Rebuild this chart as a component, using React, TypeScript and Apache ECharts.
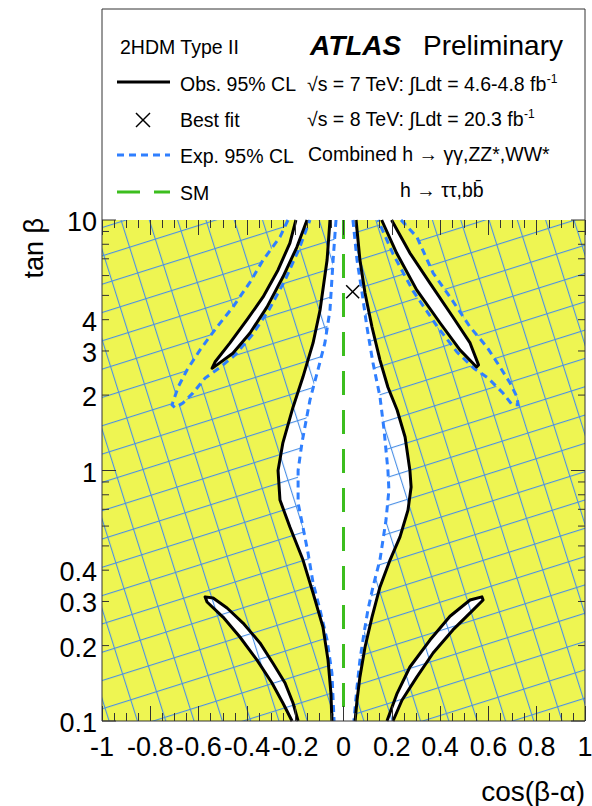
import React, { useEffect, useRef } from 'react';
import * as echarts from 'echarts';

const W = 592;
const H = 806;
const FONT = "'Liberation Sans', Arial, Helvetica, sans-serif";

// ---- axis ranges & ticks ----
const xRange = [-1, 1];
const yRange = [0.1, 10];
const yLabelValues = [0.1, 0.2, 0.3, 0.4, 1, 2, 3, 4, 10];
const yMajorTicks = [0.1, 1, 10];
const yMinorTicks = [0.2, 0.3, 0.4, 0.5, 0.6, 0.7, 0.8, 0.9, 2, 3, 4, 5, 6, 7, 8, 9];

// ---- observed 95% CL contours [cos(beta-alpha), tan beta] ----
const obsCentralLeft = [
  [-0.056, 10], [-0.068, 6.92], [-0.097, 4.37], [-0.126, 3.23], [-0.168, 2.36], [-0.209, 1.79],
  [-0.251, 1.29], [-0.271, 1.0], [-0.263, 0.762], [-0.222, 0.595], [-0.168, 0.44], [-0.126, 0.324],
  [-0.085, 0.237], [-0.064, 0.175], [-0.052, 0.129], [-0.048, 0.1],
];
const obsCentralRight = [
  [0.052, 10], [0.068, 6.92], [0.089, 5.11], [0.118, 3.74], [0.151, 2.76], [0.184, 2.15], [0.222, 1.744],
  [0.255, 1.36], [0.275, 1.0], [0.28, 0.859], [0.267, 0.695], [0.234, 0.543], [0.193, 0.44], [0.151, 0.343],
  [0.118, 0.26], [0.089, 0.197], [0.068, 0.15], [0.056, 0.121], [0.048, 0.1],
];
const obsUpperLeftPetal = [
  [-0.197, 10], [-0.222, 8.09], [-0.271, 6.32], [-0.333, 4.93], [-0.4, 3.99], [-0.47, 3.23], [-0.532, 2.71],
  [-0.544, 2.56], [-0.524, 2.64], [-0.458, 2.94], [-0.387, 3.54], [-0.317, 4.49], [-0.251, 5.92], [-0.193, 7.8],
  [-0.151, 10],
];
const obsUpperRightPetal = [
  [0.158, 10], [0.22, 7.38], [0.303, 5.26], [0.4, 3.88], [0.482, 3.03], [0.551, 2.59], [0.559, 2.64],
  [0.524, 3.23], [0.453, 4.1], [0.358, 5.6], [0.275, 7.38], [0.199, 10],
];
const obsLowerLeftPetal = [
  [-0.213, 0.1], [-0.251, 0.118], [-0.296, 0.1418], [-0.358, 0.175], [-0.429, 0.2164], [-0.499, 0.26],
  [-0.565, 0.2985], [-0.573, 0.313], [-0.54, 0.31], [-0.482, 0.2825], [-0.416, 0.246], [-0.346, 0.205],
  [-0.292, 0.17], [-0.242, 0.1418], [-0.209, 0.118], [-0.188, 0.1],
];
const obsLowerRightPetal = [
  [0.18, 0.1], [0.222, 0.129], [0.275, 0.1643], [0.358, 0.2105], [0.441, 0.262], [0.524, 0.304],
  [0.573, 0.313], [0.578, 0.304], [0.536, 0.277], [0.453, 0.231], [0.371, 0.1868], [0.304, 0.15],
  [0.242, 0.121], [0.205, 0.1],
];

// ---- expected 95% CL contours ----
const expCentralLeft = [
  [-0.031, 10], [-0.043, 6.92], [-0.056, 4.37], [-0.077, 3.23], [-0.106, 2.52], [-0.139, 1.91],
  [-0.172, 1.29], [-0.188, 1.0], [-0.188, 0.742], [-0.168, 0.595], [-0.147, 0.469], [-0.126, 0.356],
  [-0.097, 0.277], [-0.068, 0.2105], [-0.048, 0.1555], [-0.039, 0.1],
];
const expCentralRight = [
  [0.039, 10], [0.056, 6.92], [0.077, 5.11], [0.097, 3.74], [0.122, 2.69], [0.151, 1.97], [0.168, 1.45],
  [0.184, 1.0], [0.188, 0.836], [0.176, 0.634], [0.151, 0.44], [0.122, 0.343], [0.101, 0.277],
  [0.085, 0.2245], [0.068, 0.175], [0.056, 0.1367], [0.043, 0.1],
];
const expUpperLeftPetal = [
  [-0.23, 10], [-0.263, 8.55], [-0.333, 6.92], [-0.387, 5.65], [-0.458, 4.49], [-0.524, 3.74], [-0.594, 3.03],
  [-0.648, 2.52], [-0.685, 2.15], [-0.71, 1.83], [-0.698, 1.78], [-0.665, 1.86], [-0.623, 2.04],
  [-0.573, 2.34], [-0.516, 2.56], [-0.449, 2.89], [-0.379, 3.47], [-0.309, 4.37], [-0.242, 5.76],
  [-0.184, 7.66], [-0.139, 10],
];
const expUpperRightPetal = [
  [0.238, 10], [0.304, 8.55], [0.371, 6.14], [0.441, 4.93], [0.524, 3.74], [0.594, 3.11], [0.648, 2.59],
  [0.689, 2.24], [0.718, 1.97], [0.723, 1.83], [0.698, 1.83], [0.66, 2.04], [0.598, 2.34], [0.54, 2.56],
  [0.47, 2.97], [0.387, 3.77], [0.288, 5.21], [0.205, 7.32], [0.143, 10],
];

const bestFit = [0.038, 5.17];
const smLine = [[0, 0.1], [0, 10]];

const YELLOW = '#eef552';
const HATCH = '#4a8fe6';
const BLUE = '#2f7fff';
const GREEN = '#3cbe1e';

function hatchImage(bg: string) {
  const d = 27;
  const svg =
    `<svg xmlns='http://www.w3.org/2000/svg' width='${W}' height='${H}'>` +
    `<defs><pattern id='h' width='${d}' height='${d}' patternUnits='userSpaceOnUse' ` +
    `patternTransform='translate(147.7 665.6) rotate(-17.5)'>` +
    `<rect x='0' y='0' width='1.1' height='${d}' fill='${HATCH}'/>` +
    `<rect x='0' y='0' width='${d}' height='1.1' fill='${HATCH}'/>` +
    `</pattern></defs>` +
    `<rect width='${W}' height='${H}' fill='${bg}'/>` +
    `<rect width='${W}' height='${H}' fill='url(#h)'/></svg>`;
  return 'data:image/svg+xml;charset=utf-8,' + encodeURIComponent(svg);
}

function layer(id: string, z: number, build: (api: any) => any[]) {
  return {
    type: 'custom',
    id,
    coordinateSystem: 'cartesian2d',
    xAxisIndex: 0,
    yAxisIndex: 0,
    z,
    silent: true,
    clip: false,
    data: [[0, 1]],
    renderItem: (_p: any, api: any) => ({ type: 'group', children: build(api) }),
  };
}

const pts = (api: any, arr: number[][]) => arr.map((p) => api.coord(p));
const poly = (api: any, arr: number[][], fill: any) => ({
  type: 'polygon',
  shape: { points: pts(api, arr) },
  style: { fill, stroke: null },
});
const pline = (api: any, arr: number[][], style: any) => ({
  type: 'polyline',
  shape: { points: pts(api, arr) },
  style: { fill: null, ...style },
});

export default function App() {
  const ref = useRef<HTMLDivElement>(null);
  useEffect(() => {
    if (!ref.current) return;
    const chart = echarts.init(ref.current, null, { renderer: 'svg', width: W, height: H });
    const yellowHatch = { image: hatchImage(YELLOW), repeat: 'repeat', imageWidth: W, imageHeight: H };
    const whiteHatch = { image: hatchImage('#ffffff'), repeat: 'repeat', imageWidth: W, imageHeight: H };
    const plotRect = [
      [xRange[0], yRange[0]], [xRange[1], yRange[0]], [xRange[1], yRange[1]], [xRange[0], yRange[1]],
    ];
    const obsCentral = [...obsCentralLeft, ...obsCentralRight.slice().reverse()];
    const expCentral = [...expCentralLeft, ...expCentralRight.slice().reverse()];
    const obsStyle = { stroke: '#000', lineWidth: 3, lineJoin: 'round' };
    const expStyle = { stroke: BLUE, lineWidth: 3, lineDash: [7, 5] };

    const xAxisBase = {
      type: 'value',
      min: xRange[0],
      max: xRange[1],
      interval: 0.2,
      z: 20,
      axisLine: { show: false },
      splitLine: { show: false },
      minorSplitLine: { show: false },
      axisTick: { show: true, inside: true, length: 15, lineStyle: { color: '#333', width: 1 } },
      minorTick: { show: true, splitNumber: 4, length: 8, lineStyle: { color: '#333', width: 1 } },
    };

    const option: any = {
      animation: false,
      backgroundColor: '#ffffff',
      grid: { left: 102, top: 220, width: 483, height: 501, containLabel: false, outerBoundsMode: 'none' },
      xAxis: [
        {
          ...xAxisBase,
          position: 'bottom',
          axisLabel: {
            show: true,
            fontSize: 27,
            color: '#000',
            fontFamily: FONT,
            margin: 12,
            showMinLabel: true,
            showMaxLabel: true,
            hideOverlap: false,
            formatter: (v: number) => String(Math.round(v * 10) / 10),
          },
        },
        { ...xAxisBase, position: 'top', axisLabel: { show: false } },
      ],
      yAxis: [
        {
          type: 'log',
          logBase: 10,
          min: yRange[0],
          max: yRange[1],
          axisLine: { show: false },
          axisTick: { show: false },
          axisLabel: { show: false },
          splitLine: { show: false },
        },
      ],
      series: [
        layer('bg', 1, (api) => [poly(api, plotRect, yellowHatch)]),
        layer('expPetals', 2, (api) => [
          poly(api, expUpperLeftPetal, YELLOW),
          poly(api, expUpperRightPetal, YELLOW),
        ]),
        layer('obsAllowed', 3, (api) => [
          poly(api, obsCentral, whiteHatch),
          poly(api, obsLowerLeftPetal, whiteHatch),
          poly(api, obsLowerRightPetal, whiteHatch),
        ]),
        layer('bothAllowed', 4, (api) => [
          poly(api, expCentral, '#ffffff'),
          poly(api, obsUpperLeftPetal, '#ffffff'),
          poly(api, obsUpperRightPetal, '#ffffff'),
        ]),
        layer('expLines', 5, (api) => [
          pline(api, expCentralLeft, expStyle),
          pline(api, expCentralRight, expStyle),
          pline(api, expUpperLeftPetal, expStyle),
          pline(api, expUpperRightPetal, expStyle),
        ]),
        layer('obsLines', 6, (api) => [
          pline(api, obsCentralLeft, obsStyle),
          pline(api, obsCentralRight, obsStyle),
          pline(api, obsUpperLeftPetal, obsStyle),
          pline(api, obsUpperRightPetal, obsStyle),
          pline(api, obsLowerLeftPetal, obsStyle),
          pline(api, obsLowerRightPetal, obsStyle),
        ]),
        layer('sm', 7, (api) => [
          pline(api, smLine, { stroke: GREEN, lineWidth: 3, lineDash: [24, 15], lineDashOffset: 25 }),
        ]),
        layer('bestfit', 8, (api) => {
          const [cx, cy] = api.coord(bestFit);
          const s = 6.5;
          const st = { stroke: '#000', lineWidth: 1.5 };
          return [
            { type: 'line', shape: { x1: cx - s, y1: cy - s, x2: cx + s, y2: cy + s }, style: st },
            { type: 'line', shape: { x1: cx - s, y1: cy + s, x2: cx + s, y2: cy - s }, style: st },
          ];
        }),
        layer('yticks', 9, (api) => {
          const out: any[] = [];
          const st = { stroke: '#333', lineWidth: 1 };
          const add = (v: number, len: number) => {
            const [xl, y] = api.coord([xRange[0], v]);
            const [xr] = api.coord([xRange[1], v]);
            out.push({ type: 'line', shape: { x1: xl, y1: y, x2: xl + len, y2: y }, style: st });
            out.push({ type: 'line', shape: { x1: xr, y1: y, x2: xr - len, y2: y }, style: st });
          };
          yMajorTicks.forEach((v) => add(v, 14));
          yMinorTicks.forEach((v) => add(v, 7));
          yLabelValues.forEach((v) => {
            const [xl, y] = api.coord([xRange[0], v]);
            out.push({
              type: 'text',
              x: xl - 5,
              y: y + 2,
              style: {
                text: String(v),
                fontSize: 27,
                fontFamily: FONT,
                fill: '#000',
                align: 'right',
                verticalAlign: 'middle',
              },
            });
          });
          return out;
        }),
      ],
      graphic: [
        {
          type: 'rect',
          z: 100,
          silent: true,
          shape: { x: 102, y: 9, width: 483, height: 712 },
          style: { fill: 'none', stroke: '#333', lineWidth: 1 },
        },
        {
          type: 'text', x: 34, y: 218, rotation: Math.PI / 2, z: 100,
          style: { text: 'tan β', fontSize: 27, fontFamily: FONT, fill: '#000', align: 'right', verticalAlign: 'middle' },
        },
        {
          type: 'text', x: 585, y: 791, z: 100,
          style: { text: 'cos(β-α)', fontSize: 28, fontFamily: FONT, fill: '#000', align: 'right', verticalAlign: 'middle' },
        },
        {
          type: 'text', x: 120, y: 47, z: 100,
          style: { text: '2HDM Type II', fontSize: 19.5, fontFamily: FONT, fill: '#000', verticalAlign: 'middle' },
        },
        {
          type: 'text', x: 310, y: 45, z: 100,
          style: { text: 'ATLAS', fontSize: 28, fontWeight: 'bold', fontStyle: 'italic', fontFamily: FONT, fill: '#000', verticalAlign: 'middle' },
        },
        {
          type: 'text', x: 563, y: 45, z: 100,
          style: { text: 'Preliminary', fontSize: 28, fontFamily: FONT, fill: '#000', align: 'right', verticalAlign: 'middle' },
        },
        // legend entries
        { type: 'line', z: 100, shape: { x1: 117, y1: 82, x2: 170, y2: 82 }, style: { stroke: '#000', lineWidth: 3 } },
        { type: 'text', x: 180, y: 84, z: 100, style: { text: 'Obs. 95% CL', fontSize: 19.5, fontFamily: FONT, fill: '#000', verticalAlign: 'middle' } },
        { type: 'line', z: 100, shape: { x1: 136, y1: 113, x2: 150, y2: 127 }, style: { stroke: '#000', lineWidth: 1.5 } },
        { type: 'line', z: 100, shape: { x1: 136, y1: 127, x2: 150, y2: 113 }, style: { stroke: '#000', lineWidth: 1.5 } },
        { type: 'text', x: 180, y: 120, z: 100, style: { text: 'Best fit', fontSize: 19.5, fontFamily: FONT, fill: '#000', verticalAlign: 'middle' } },
        { type: 'line', z: 100, shape: { x1: 117, y1: 155, x2: 170, y2: 155 }, style: { stroke: BLUE, lineWidth: 3, lineDash: [7, 5] } },
        { type: 'text', x: 180, y: 156, z: 100, style: { text: 'Exp. 95% CL', fontSize: 19.5, fontFamily: FONT, fill: '#000', verticalAlign: 'middle' } },
        { type: 'line', z: 100, shape: { x1: 117, y1: 192, x2: 170, y2: 192 }, style: { stroke: GREEN, lineWidth: 3, lineDash: [23, 14] } },
        { type: 'text', x: 180, y: 193, z: 100, style: { text: 'SM', fontSize: 19.5, fontFamily: FONT, fill: '#000', verticalAlign: 'middle' } },
        // right column
        {
          type: 'text', x: 307, y: 84, z: 100,
          style: {
            text: '√s = 7 TeV: ∫Ldt = 4.6-4.8 fb{s|-1}', fontSize: 19.5, fontFamily: FONT, fill: '#000', verticalAlign: 'middle',
            rich: { s: { fontSize: 12, fontFamily: FONT, fill: '#000', verticalAlign: 'top', lineHeight: 22 } },
          },
        },
        {
          type: 'text', x: 307, y: 119, z: 100,
          style: {
            text: '√s = 8 TeV: ∫Ldt = 20.3 fb{s|-1}', fontSize: 19.5, fontFamily: FONT, fill: '#000', verticalAlign: 'middle',
            rich: { s: { fontSize: 12, fontFamily: FONT, fill: '#000', verticalAlign: 'top', lineHeight: 22 } },
          },
        },
        {
          type: 'text', x: 308, y: 154, z: 100,
          style: { text: 'Combined h → γγ,ZZ*,WW*', fontSize: 19.5, fontFamily: FONT, fill: '#000', verticalAlign: 'middle' },
        },
        {
          type: 'text', x: 400, y: 190, z: 100,
          style: { text: 'h → ττ,bb\u0304', fontSize: 19.5, fontFamily: FONT, fill: '#000', verticalAlign: 'middle' },
        },
      ],
    };
    chart.setOption(option);
    return () => chart.dispose();
  }, []);
  return (
    <div
      ref={ref}
      style={{ position: 'fixed', left: 0, top: 0, width: W, height: H, background: '#fff' }}
    />
  );
}
